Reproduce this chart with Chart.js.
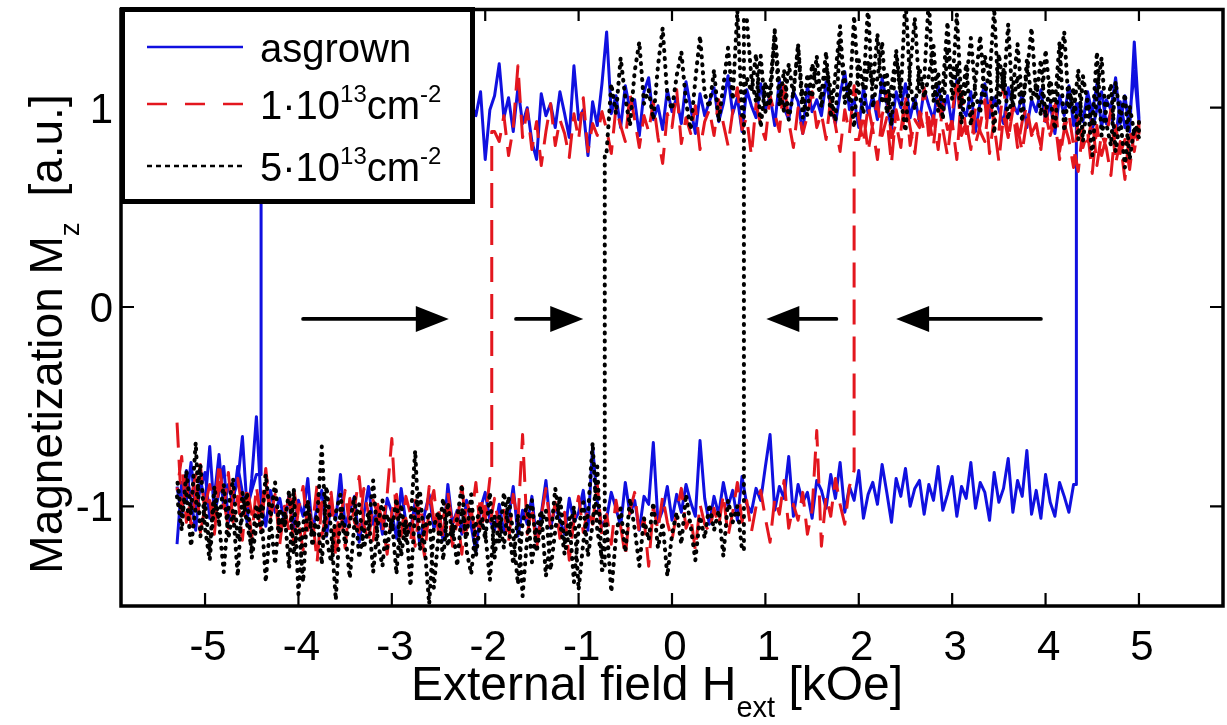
<!DOCTYPE html>
<html>
<head>
<meta charset="utf-8">
<title>Hysteresis loops</title>
<script src="https://cdn.jsdelivr.net/npm/chart.js@4.4.1/dist/chart.umd.min.js"></script>
<style>
    html, body { margin: 0; padding: 0; background: #fff; }
    #chart { display: block; }
</style>
</head>
<body>
<canvas id="chart" width="1227" height="725"></canvas>
<script>
// Field sweep grid (kOe): -5.30 ... 5.00
const fieldStart = -5.30;
const fieldStep = 0.05;
const fieldCount = 207;

const xTicks = [-5, -4, -3, -2, -1, 0, 1, 2, 3, 4, 5];
const yTicks = [-1, 0, 1];

// switching fields (kOe): asgrown, 1e13, 5e13
const switchUp = [4.33, 1.95, 0.77];
const switchDown = [-4.40, -1.93, -0.72];

// arrows at M ~ 0 (kOe)
const arrowFrom = [-3.95, -1.67, 1.76, 3.95];
const arrowTo = [-2.39, -0.95, 1.01, 2.40];
const arrowLevel = -0.06;

// Mz read on the field grid, increasing field order
const blueUp = [
    -1.19, -0.88, -0.97, -0.78, -1.02, -0.91, -0.83, -1.06, -0.95, -0.74, -1.01, -0.89, -0.99, -0.80, -0.93, -1.08, -0.86, -0.55, -0.98, -1.10, -0.92, -1.03, -0.96,
    -1.08, -0.94, -1.12, -0.97, -1.05, -0.86, -1.13, -1.00, -0.92, -1.15, -0.99, -1.07, -0.84, -1.10, -1.02, -0.95, -1.18, -1.04, -0.90, -1.09, -1.01, -1.14, -0.96,
    -1.03, -1.16, -0.91, -1.08, -1.12, -0.98, -1.20, -1.04, -0.94, -1.11, -1.06, -1.17, -0.89, -1.09, -1.02, -1.14, -0.97, -1.10, -1.23, -1.01, -0.93, -1.07, -1.12,
    -0.99, -1.13, -1.06, -0.90, -1.15, -1.02, -1.09, -0.95, -1.18, -1.04, -0.87, -1.11, -1.00, -1.07, -1.14, -0.96, -1.08, -1.03, -0.92, -1.12, -0.70, -0.98, -1.10,
    -1.06, -0.93, -1.01, -1.10, -0.88, -1.04, -0.97, -1.12, -0.95, -0.99, -0.68, -1.08, -1.02, -0.90, -1.07, -0.94, -1.03, -0.89, -0.98, -1.05, -0.67, -0.96, -1.09,
    -0.95, -1.04, -0.88, -1.00, -0.92, -1.07, -0.85, -0.99, -1.03, -0.91, -0.97, -0.80, -0.64, -1.02, -0.90, -0.96, -0.75, -1.05, -0.89, -0.98, -0.93, -1.06, -0.87,
    -0.92, -1.01, -0.84, -0.96, -0.78, -1.03, -0.90, -0.97, -0.82, -1.06, -0.94, -0.88, -0.99, -0.79, -0.93, -1.08, -0.86, -0.95, -0.81, -1.00, -0.91, -0.87, -1.04,
    -0.89, -0.97, -0.80, -1.02, -0.94, -0.85, -1.05, -0.90, -0.96, -0.78, -1.01, -0.88, -0.93, -1.07, -0.83, -0.98, -0.91, -0.76, -1.03, -0.87, -0.95, -0.72, -1.04,
    -0.92, -1.06, -0.84, -0.98, -1.05, -0.88, -0.95, -1.03, -0.89, 1.02, 0.93, 1.08, 0.97, 1.12, 0.90, 1.04, 0.99, 1.15, 0.92, 1.06, 0.88, 1.33, 0.95
];
const blueDown = [
    -0.90, -1.05, -0.82, -0.97, -1.12, -0.86, -0.99, -0.70, -1.04, -0.93, -0.80, -1.08, -0.95, -0.88, -0.65, -1.01, -0.92, -0.84, 0.96, 1.05, 0.91, 1.00, 0.94,
    0.99, 0.92, 1.04, 0.95, 1.01, 0.89, 0.98, 1.06, 0.93, 0.97, 1.02, 0.90, 0.96, 1.05, 0.94, 0.99, 0.91, 1.03, 0.96, 0.93, 1.00, 0.95, 0.98,
    0.97, 1.03, 0.94, 0.99, 0.91, 1.05, 0.96, 0.93, 1.01, 0.95, 0.98, 0.90, 1.04, 0.97, 0.92, 1.00, 0.94, 1.02, 0.96, 1.08, 0.74, 0.99, 1.06,
    1.22, 0.95, 1.05, 0.88, 1.10, 0.92, 1.00, 0.83, 0.74, 1.07, 0.96, 1.02, 0.90, 1.08, 0.97, 0.85, 1.21, 0.94, 0.99, 0.76, 1.03, 0.91, 1.12,
    1.38, 0.97, 1.06, 0.90, 1.11, 0.99, 1.04, 0.86, 1.08, 1.15, 0.94, 1.01, 0.89, 1.09, 0.98, 1.05, 0.92, 1.13, 1.00, 0.87, 1.07, 0.96, 1.03,
    1.10, 0.93, 1.02, 1.16, 0.97, 1.05, 0.88, 1.09, 1.01, 0.95, 1.12, 0.99, 1.06, 0.91, 1.14, 1.00, 0.94, 1.08, 1.03, 0.87, 1.11, 0.98, 1.04,
    0.96, 1.13, 1.01, 0.92, 1.07, 1.18, 0.99, 1.04, 0.90, 1.10, 0.97, 1.06, 0.94, 1.15, 1.02, 0.89, 1.08, 1.00, 1.12, 0.95, 1.05, 0.93, 1.09,
    1.01, 0.94, 1.11, 0.98, 1.06, 0.91, 1.14, 1.00, 0.96, 1.08, 0.88, 1.03, 1.12, 0.95, 1.05, 0.99, 0.92, 1.10, 1.02, 0.97, 1.07, 0.90, 1.04,
    0.98, 1.09, 0.93, 1.02, 0.87, 1.06, 0.96, 1.11, 0.91, 1.00, 0.94, 1.05, 0.89, 0.99, 1.08, 0.92, 0.97, 0.85, 1.03, 0.90, 0.96, 1.18, 0.93
];
const redUp = [
    -0.58, -1.02, -0.86, -1.10, -0.93, -0.79, -1.05, -0.97, -1.14, -0.88, -1.01, -0.83, -1.08, -0.95, -1.17, -0.90, -1.04, -0.99, -1.12, -0.87, -1.06, -0.94, -1.19,
    -1.00, -1.13, -0.91, -1.07, -1.22, -0.98, -1.10, -0.89, -1.15, -1.03, -0.96, -1.26, -1.06, -0.92, -1.11, -1.01, -0.85, -1.09, -1.18, -0.97, -1.04, -1.13, -0.94,
    -0.66, -1.08, -1.15, -0.95, -1.04, -1.20, -0.99, -1.12, -0.90, -1.07, -1.01, -1.16, -0.93, -1.10, -1.03, -1.24, -0.97, -1.06, -0.88, -1.13, -1.00, -1.09, -0.96,
    -1.12, -1.02, -1.18, -0.94, -1.08, -0.64, -1.14, -1.00, -1.21, -1.05, -0.91, -1.11, -0.98, -1.16, -1.03, -1.27, -1.07, -0.95, -1.13, -1.01, -1.09, -0.89, -1.15,
    -1.04, -1.19, -0.97, -1.10, -1.25, -1.02, -0.93, -1.14, -1.06, -1.30, -1.00, -1.12, -0.95, -1.08, -1.17, -1.03, -0.91, -1.11, -1.05, -1.22, -0.99, -1.09, -1.13,
    -1.01, -1.10, -0.94, -1.15, -1.03, -0.88, -1.08, -0.97, -1.13, -1.00, -0.92, -1.06, -1.18, -0.96, -1.04, -0.87, -1.11, -0.99, -1.07, -0.93, -1.14, -1.02, -0.62,
    -1.20, -0.95, -1.05, -0.86, -0.99, -1.09, -0.90, -0.82, 0.84, 0.97, 0.78, 0.92, 1.03, 0.86, 0.95, 0.72, 0.99, 0.88, 1.06, 0.81, 0.94, 0.90, 1.10,
    0.85, 0.96, 0.79, 1.02, 0.89, 0.93, 0.74, 1.08, 0.87, 0.98, 0.82, 0.91, 1.04, 0.77, 0.95, 0.88, 1.12, 0.84, 0.99, 0.80, 0.93, 1.01, 0.86,
    0.90, 0.81, 0.97, 0.86, 1.05, 0.78, 0.92, 0.84, 0.70, 0.95, 0.80, 0.88, 0.67, 0.91, 0.76, 0.85, 0.99, 0.72, 0.83, 0.64, 0.89, 0.78, 0.93
];
const redDown = [
    -0.92, -0.75, -1.08, -0.96, -0.84, -1.13, -1.00, -0.89, -1.05, -0.78, -0.97, -1.11, -0.93, -0.86, -1.02, -0.94, -1.16, -0.90, -1.07, -0.81, -1.03, -0.98, -1.10,
    -1.06, -0.95, -1.19, -1.02, -0.90, -1.12, -1.05, -1.28, -0.98, -1.09, -0.93, -1.15, -1.01, -1.21, -0.96, -1.08, -1.13, -0.91, -1.04, -1.17, -0.99, -1.07, -1.24,
    -1.03, -0.94, -1.11, -1.06, -1.18, -0.97, -1.09, -1.25, -1.01, -0.92, -1.14, -1.05, -0.99, -1.20, -1.08, -0.90, -1.12, -1.02, -1.16, -0.95, -1.07, -0.86, 0.88,
    0.83, 0.96, 0.76, 0.90, 1.21, 0.85, 0.99, 0.79, 0.93, 0.71, 0.88, 1.02, 0.81, 0.94, 0.87, 0.75, 0.97, 0.84, 1.05, 0.78, 0.92, 0.86, 0.98,
    0.89, 0.77, 1.00, 0.91, 0.83, 1.07, 0.94, 0.80, 0.96, 0.88, 1.03, 0.85, 0.72, 0.97, 0.90, 1.09, 0.82, 0.95, 0.87, 1.01, 0.79, 0.93, 0.99,
    0.86, 1.04, 0.92, 0.81, 0.98, 1.10, 0.89, 0.95, 0.76, 1.02, 0.91, 0.84, 1.06, 0.97, 0.88, 1.13, 0.93, 0.80, 1.00, 0.87, 0.96, 1.08, 0.90,
    0.97, 0.84, 1.05, 0.91, 0.78, 0.99, 0.87, 1.11, 0.94, 0.82, 1.01, 0.89, 0.74, 0.96, 1.07, 0.85, 0.92, 0.80, 1.03, 0.90, 0.77, 0.98, 0.88,
    0.95, 0.81, 1.04, 0.89, 0.76, 0.97, 1.15, 0.86, 0.93, 0.79, 1.00, 0.88, 0.83, 1.06, 0.91, 0.73, 0.96, 0.85, 1.02, 0.90, 0.78, 0.94, 0.87,
    0.92, 0.79, 1.01, 0.86, 0.94, 0.74, 0.89, 0.97, 0.81, 0.68, 0.90, 0.83, 0.95, 0.71, 0.87, 0.80, 0.66, 0.91, 0.77, 0.84, 0.69, 0.88, 0.82
];
const blackUp = [
    -0.95, -1.12, -0.82, -1.04, -0.68, -1.15, -0.98, -1.22, -0.90, -1.08, -1.33, -1.01, -0.86, -1.17, -1.05, -0.93, -1.26, -1.10, -0.99, -1.38, -1.06, -0.88, -1.14,
    -1.02, -1.31, -0.91, -1.44, -1.09, -0.97, -1.20, -1.05, -0.70, -1.16, -1.28, -1.03, -0.94, -1.13, -1.36, -1.08, -0.99, -1.21, -1.11, -0.87, -1.18, -1.30, -1.04,
    -1.12, -0.96, -1.25, -1.07, -1.40, -1.01, -0.92, -1.19, -1.49, -1.10, -1.03, -1.27, -0.98, -1.15, -1.06, -0.89, -1.22, -1.34, -1.09, -1.00, -1.17, -0.93, -1.26,
    -1.05, -1.21, -0.95, -1.14, -1.39, -1.08, -0.99, -1.28, -1.11, -1.02, -1.35, -1.16, -0.91, -1.07, -1.24, -1.13, -1.00, -1.42, -1.18, -1.04, -0.68, -1.12, -1.26,
    -1.09, -1.43, -1.15, -1.01, -1.23, -0.96, -1.11, -1.30, -1.06, -1.17, -0.98, -1.21, -1.08, -1.35, -1.14, -1.03, -1.19, -0.94, -1.10, -1.27, -1.05, -1.16, -0.99,
    -1.12, -1.02, -1.25, -0.97, -1.08, -1.00, -1.22, 1.45, 1.15, 1.03, 1.26, 0.98, 1.10, 1.38, 1.01, 1.19, 0.94, 1.08, 1.31, 1.04, 0.96, 1.22, 1.12,
    1.06, 1.28, 0.95, 1.17, 1.41, 1.02, 1.13, 0.90, 1.24, 1.09, 1.52, 1.00, 1.15, 1.33, 0.97, 1.11, 1.26, 1.05, 0.88, 1.20, 1.45, 1.08, 1.14,
    1.55, 1.03, 1.18, 0.94, 1.30, 1.10, 1.47, 1.01, 1.22, 0.91, 1.13, 1.36, 1.06, 1.19, 0.87, 1.27, 1.09, 1.42, 1.00, 1.16, 0.93, 1.24, 1.04,
    1.12, 0.96, 1.29, 1.05, 0.89, 1.20, 1.38, 0.99, 1.10, 0.84, 1.16, 1.02, 0.76, 1.08, 1.25, 0.92, 0.81, 1.13, 0.95, 0.70, 1.01, 0.87, 0.93
];
const blackDown = [
    -0.86, -1.05, -0.94, -1.20, -1.00, -0.79, -1.11, -1.27, -0.97, -1.08, -0.89, -1.16, -1.02, -1.35, -0.93, -1.09, -1.21, -0.99, -1.13, -0.84, -1.06, -1.29, -1.01,
    -1.10, -0.92, -1.24, -1.07, -1.38, -0.98, -1.15, -1.04, -1.29, -0.90, -1.12, -1.47, -1.01, -1.19, -1.08, -0.95, -1.26, -1.13, -1.03, -1.33, -1.09, -0.97, -1.21,
    -1.06, -1.34, -0.99, -1.17, -1.08, -0.72, -1.22, -1.12, -1.03, -1.41, -1.14, -0.96, -1.20, -1.09, -1.30, -1.01, -1.16, -0.94, -1.25, -1.07, -1.13, -1.37, -1.05,
    -1.18, -0.93, -1.10, -1.29, -1.04, -1.45, -1.15, -0.97, -1.23, -1.08, -1.02, -1.32, -1.12, -0.95, -1.19, -1.06, -1.38, -1.11, -0.98, -1.25, -1.09, -0.80, -1.32,
    0.78, 1.12, 0.97, 1.25, 1.05, 0.91, 1.18, 1.33, 1.02, 1.09, 0.94, 1.21, 1.40, 1.06, 0.99, 1.16, 1.28, 1.03, 0.89, 1.14, 1.36, 1.07, 1.00,
    1.19, 0.93, 1.11, 1.30, 1.04, 1.49, 0.96, 1.15, 1.08, 1.27, 0.90, 1.13, 1.01, 1.39, 1.10, 0.98, 1.22, 1.06, 1.32, 0.95, 1.17, 1.05, 1.26,
    1.00, 1.21, 1.09, 0.93, 1.34, 1.14, 1.03, 1.46, 1.08, 0.97, 1.23, 1.11, 1.37, 1.02, 1.18, 0.91, 1.29, 1.07, 1.55, 1.12, 0.99, 1.20, 1.05,
    1.16, 1.31, 0.98, 1.10, 1.43, 1.04, 1.22, 0.92, 1.13, 1.35, 1.07, 0.97, 1.26, 1.15, 1.50, 1.01, 1.19, 0.94, 1.09, 1.32, 1.03, 1.17, 1.40,
    1.06, 1.24, 0.95, 1.14, 1.02, 1.33, 0.88, 1.10, 0.97, 1.19, 0.83, 1.04, 0.91, 1.28, 0.86, 0.99, 1.12, 0.78, 0.94, 1.07, 0.74, 0.90, 0.85
];

// legend / axis texts: [text, 0 normal | 1 superscript | -1 subscript]
const legendLabels = [
    [['asgrown', 0]],
    [['1\u00b710', 0], ['13', 1], ['cm', 0], ['-2', 1]],
    [['5\u00b710', 0], ['13', 1], ['cm', 0], ['-2', 1]]
];
const xTitle = [['External field H', 0], ['ext', -1], [' [kOe]', 0]];
const yTitle = [['Magnetization M', 0], ['z', -1], ['  [a.u.]', 0]];

const FONT = '"Liberation Sans", Arial, Helvetica, sans-serif';

const field = [];
for (let i = 0; i < fieldCount; i++) {
    field.push(Math.round((fieldStart + i * fieldStep) * 100) / 100);
}

// full loop: sweep up then sweep down, with a vertical jump at each switching field
function buildLoop(up, down, hUp, hDown) {
    const pts = [];
    for (let i = 0; i < field.length; i++) {
        if (i > 0 && up[i - 1] < 0 && up[i] > 0) {
            pts.push({ x: hUp, y: up[i - 1] }, { x: hUp, y: up[i] });
        }
        pts.push({ x: field[i], y: up[i] });
    }
    for (let i = field.length - 1; i >= 0; i--) {
        if (i < field.length - 1 && down[i + 1] > 0 && down[i] < 0) {
            pts.push({ x: hDown, y: down[i + 1] }, { x: hDown, y: down[i] });
        }
        pts.push({ x: field[i], y: down[i] });
    }
    return pts;
}

const seriesStyles = [
    { color: '#1010e0', width: 3.0, dash: [], cap: 'butt', order: 3 },
    { color: '#e3161e', width: 3.0, dash: [25, 12], cap: 'butt', order: 2 },
    { color: '#000000', width: 4.0, dash: [1, 7], cap: 'round', order: 1 }
];

const loops = [
    buildLoop(blueUp, blueDown, switchUp[0], switchDown[0]),
    buildLoop(redUp, redDown, switchUp[1], switchDown[1]),
    buildLoop(blackUp, blackDown, switchUp[2], switchDown[2])
];

function drawParts(ctx, parts, x, y, size, align) {
    const fontFor = k => (k === 0 ? size : Math.round(size * 0.6)) + 'px ' + FONT;
    let total = 0;
    parts.forEach(p => { ctx.font = fontFor(p[1]); total += ctx.measureText(p[0]).width; });
    let cx = align === 'center' ? x - total / 2 : x;
    ctx.textAlign = 'left';
    ctx.textBaseline = 'alphabetic';
    parts.forEach(p => {
        ctx.font = fontFor(p[1]);
        const dy = p[1] === 1 ? -size * 0.42 : (p[1] === -1 ? size * 0.36 : 0);
        ctx.fillText(p[0], cx, y + dy);
        cx += ctx.measureText(p[0]).width;
    });
}

const decor = {
    id: 'decor',
    afterDatasetsDraw(chart) {
        const ctx = chart.ctx;
        const xs = chart.scales.x, ys = chart.scales.y;
        const py = ys.getPixelForValue(arrowLevel);
        ctx.save();
        ctx.fillStyle = '#000';
        ctx.strokeStyle = '#000';
        arrowFrom.forEach((f, k) => {
            const x0 = xs.getPixelForValue(f);
            const x1 = xs.getPixelForValue(arrowTo[k]);
            const dir = Math.sign(x1 - x0);
            const head = 33, half = 13;
            ctx.beginPath();
            ctx.lineWidth = 3.8;
            ctx.lineCap = 'round';
            ctx.moveTo(x0, py);
            ctx.lineTo(x1 - dir * head, py);
            ctx.stroke();
            ctx.beginPath();
            ctx.moveTo(x1, py);
            ctx.lineTo(x1 - dir * head, py - half);
            ctx.lineTo(x1 - dir * head, py + half);
            ctx.closePath();
            ctx.fill();
        });
        ctx.restore();
    },
    afterDraw(chart) {
        const ctx = chart.ctx;
        const a = chart.chartArea;
        const xs = chart.scales.x, ys = chart.scales.y;
        ctx.save();
        ctx.strokeStyle = '#000';
        ctx.fillStyle = '#000';

        // axes box
        ctx.lineWidth = 3.5;
        ctx.strokeRect(a.left, a.top + 1.5, a.right - a.left, a.bottom - a.top - 1.5);

        // inward ticks
        const tl = 13;
        ctx.lineWidth = 2.2;
        ctx.beginPath();
        xTicks.forEach(v => {
            const px = xs.getPixelForValue(v);
            ctx.moveTo(px, a.bottom); ctx.lineTo(px, a.bottom - tl);
            ctx.moveTo(px, a.top); ctx.lineTo(px, a.top + tl);
        });
        yTicks.forEach(v => {
            const py = ys.getPixelForValue(v);
            ctx.moveTo(a.left, py); ctx.lineTo(a.left + tl, py);
            ctx.moveTo(a.right, py); ctx.lineTo(a.right - tl, py);
        });
        ctx.stroke();

        // tick labels
        ctx.font = '42px ' + FONT;
        ctx.textBaseline = 'alphabetic';
        ctx.textAlign = 'center';
        xTicks.forEach(v => {
            ctx.fillText(String(v), xs.getPixelForValue(v) + 3, a.bottom + 54);
        });
        ctx.textAlign = 'right';
        yTicks.forEach(v => {
            ctx.fillText(String(v), a.left - 8, ys.getPixelForValue(v) + 15);
        });

        // axis titles
        drawParts(ctx, xTitle, (a.left + a.right) / 2 - 15, a.bottom + 94, 48, 'center');
        ctx.save();
        ctx.translate(62, 334);
        ctx.rotate(-Math.PI / 2);
        drawParts(ctx, yTitle, 0, 0, 46, 'center');
        ctx.restore();

        // legend box
        const lx = 120, ly = 7, lw = 355, lh = 197;
        ctx.fillStyle = '#fff';
        ctx.fillRect(lx, ly, lw, lh);
        ctx.lineWidth = 5;
        ctx.strokeRect(lx + 2.5, ly + 2.5, lw - 5, lh - 5);
        const rowY = [47, 104, 166];
        legendLabels.forEach((parts, k) => {
            const s = seriesStyles[k];
            ctx.beginPath();
            ctx.strokeStyle = s.color;
            ctx.lineWidth = k === 2 ? 2.6 : 2.4;
            ctx.setLineDash(k === 2 ? [5, 4] : (k === 1 ? [20, 18] : []));
            ctx.lineCap = 'butt';
            ctx.moveTo(147, rowY[k]);
            ctx.lineTo(243, rowY[k]);
            ctx.stroke();
            ctx.setLineDash([]);
            ctx.fillStyle = '#000';
            drawParts(ctx, parts, 260, rowY[k] + 15, 40, 'left');
        });
        ctx.restore();
    }
};

new Chart(document.getElementById('chart'), {
    type: 'scatter',
    data: {
        datasets: loops.map((pts, k) => ({
            label: 'loop ' + k,
            data: pts,
            showLine: true,
            borderColor: seriesStyles[k].color,
            borderWidth: seriesStyles[k].width,
            borderDash: seriesStyles[k].dash,
            borderCapStyle: seriesStyles[k].cap,
            borderJoinStyle: 'round',
            pointRadius: 0,
            pointHoverRadius: 0,
            tension: 0,
            order: seriesStyles[k].order
        }))
    },
    options: {
        responsive: false,
        devicePixelRatio: 1,
        animation: false,
        layout: { padding: { top: 8, right: 4, left: 0, bottom: 0 } },
        plugins: {
            legend: { display: false },
            tooltip: { enabled: false }
        },
        scales: {
            x: {
                type: 'linear',
                min: -5.9,
                max: 5.9,
                grid: { display: false },
                border: { display: false },
                ticks: { display: false },
                afterBuildTicks: scale => { scale.ticks = xTicks.map(v => ({ value: v })); },
                afterFit: scale => { scale.height = 119; }
            },
            y: {
                type: 'linear',
                min: -1.5,
                max: 1.5,
                grid: { display: false },
                border: { display: false },
                ticks: { display: false },
                afterBuildTicks: scale => { scale.ticks = yTicks.map(v => ({ value: v })); },
                afterFit: scale => { scale.height; scale.width = 121; }
            }
        }
    },
    plugins: [decor]
});
</script>
</body>
</html>
